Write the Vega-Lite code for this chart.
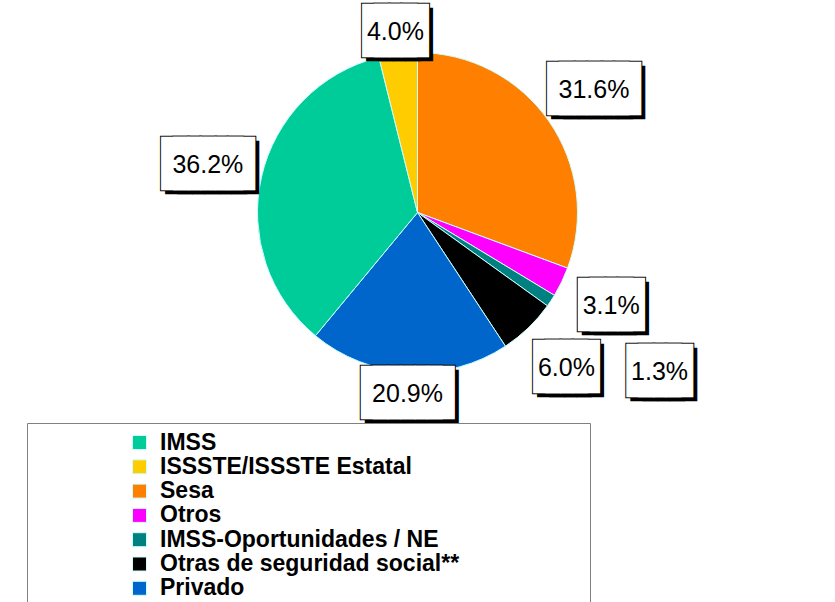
{
  "$schema": "https://vega.github.io/schema/vega-lite/v6.json",
  "width": 835,
  "height": 425,
  "padding": {"left": 0, "top": 0, "right": 0, "bottom": 177},
  "autosize": {"type": "none"},
  "background": "white",
  "config": {"view": {"stroke": null}},
  "data": {"values": [
    {"name": "Sesa", "value": 31.6, "label": "31.6%", "rank": 1},
    {"name": "Otros", "value": 3.1, "label": "3.1%", "rank": 2},
    {"name": "IMSS-Oportunidades / NE", "value": 1.3, "label": "1.3%", "rank": 3},
    {"name": "Otras de seguridad social**", "value": 6.0, "label": "6.0%", "rank": 4},
    {"name": "Privado", "value": 20.9, "label": "20.9%", "rank": 5},
    {"name": "IMSS", "value": 36.2, "label": "36.2%", "rank": 6},
    {"name": "ISSSTE/ISSSTE Estatal", "value": 4.0, "label": "4.0%", "rank": 7}
  ]},
  "encoding": {
    "theta": {"field": "value", "type": "quantitative", "stack": true},
    "order": {"field": "rank", "type": "quantitative"}
  },
  "layer": [
    {
      "mark": {"type": "arc", "outerRadius": 160, "stroke": "#ccffff", "strokeWidth": 1},
      "encoding": {
        "color": {
          "field": "name", "type": "nominal",
          "scale": {
            "domain": ["IMSS", "ISSSTE/ISSSTE Estatal", "Sesa", "Otros", "IMSS-Oportunidades / NE", "Otras de seguridad social**", "Privado"],
            "range": ["#00CC99", "#FFCC00", "#FF8000", "#FF00FF", "#008080", "#000000", "#0066CC"]
          },
          "legend": {
            "orient": "none", "legendX": 27, "legendY": 423,
            "title": "\u00a0", "titleOrient": "right", "titlePadding": 123, "titleFontSize": 10,
            "strokeColor": "#808080", "padding": 8, "symbolOffset": 93,
            "symbolType": "square", "symbolSize": 196, "symbolStrokeColor": "#ccffff", "symbolStrokeWidth": 1,
            "labelFont": "Liberation Sans", "labelFontSize": 23, "labelFontWeight": "bold", "labelColor": "#000000",
            "labelOffset": 9, "rowPadding": 0.3, "labelLimit": 600
          }
        }
      }
    },
    {"mark": {"type": "text", "font": "DejaVu Sans Mono", "fontSize": 45, "radius": 182, "dx": -2, "dy": 4, "fill": "#000000", "align": "center", "baseline": "middle"},
     "encoding": {"text": {"condition": [{"test": "indexof(['ISSSTE/ISSSTE Estatal','Privado'], datum.name) < 0", "value": ""}, {"test": "datum.value < 10", "value": "██"}], "value": "███"}}},
    {"mark": {"type": "text", "font": "DejaVu Sans Mono", "fontSize": 45, "radius": 182, "dx": 10, "dy": 4, "fill": "#000000", "align": "center", "baseline": "middle"},
     "encoding": {"text": {"condition": [{"test": "indexof(['ISSSTE/ISSSTE Estatal','Privado'], datum.name) < 0", "value": ""}, {"test": "datum.value < 10", "value": "██"}], "value": "███"}}},
    {"mark": {"type": "text", "font": "DejaVu Sans Mono", "fontSize": 45, "radius": 182, "dx": -6, "fill": "#ffffff", "stroke": "#000000", "strokeWidth": 2, "align": "center", "baseline": "middle"},
     "encoding": {"text": {"condition": [{"test": "indexof(['ISSSTE/ISSSTE Estatal','Privado'], datum.name) < 0", "value": ""}, {"test": "datum.value < 10", "value": "██"}], "value": "███"}}},
    {"mark": {"type": "text", "font": "DejaVu Sans Mono", "fontSize": 45, "radius": 182, "dx": 6, "fill": "#ffffff", "stroke": "#000000", "strokeWidth": 2, "align": "center", "baseline": "middle"},
     "encoding": {"text": {"condition": [{"test": "indexof(['ISSSTE/ISSSTE Estatal','Privado'], datum.name) < 0", "value": ""}, {"test": "datum.value < 10", "value": "██"}], "value": "███"}}},
    {"mark": {"type": "text", "font": "DejaVu Sans Mono", "fontSize": 45, "radius": 182, "dx": -6, "fill": "#ffffff", "align": "center", "baseline": "middle"},
     "encoding": {"text": {"condition": [{"test": "indexof(['ISSSTE/ISSSTE Estatal','Privado'], datum.name) < 0", "value": ""}, {"test": "datum.value < 10", "value": "██"}], "value": "███"}}},
    {"mark": {"type": "text", "font": "DejaVu Sans Mono", "fontSize": 45, "radius": 182, "dx": 6, "fill": "#ffffff", "align": "center", "baseline": "middle"},
     "encoding": {"text": {"condition": [{"test": "indexof(['ISSSTE/ISSSTE Estatal','Privado'], datum.name) < 0", "value": ""}, {"test": "datum.value < 10", "value": "██"}], "value": "███"}}},
    {"mark": {"type": "text", "font": "Liberation Sans", "fontSize": 25, "radius": 182, "fill": "#000000", "align": "center", "baseline": "middle"},
     "encoding": {"text": {"condition": {"test": "indexof(['ISSSTE/ISSSTE Estatal','Privado'], datum.name) < 0", "value": ""}, "field": "label"}}},

    {"mark": {"type": "text", "font": "DejaVu Sans Mono", "fontSize": 45, "radius": 215, "dx": -2, "dy": 4, "fill": "#000000", "align": "center", "baseline": "middle"},
     "encoding": {"text": {"condition": [{"test": "indexof(['Sesa','Otros','Otras de seguridad social**','IMSS'], datum.name) < 0", "value": ""}, {"test": "datum.value < 10", "value": "██"}], "value": "███"}}},
    {"mark": {"type": "text", "font": "DejaVu Sans Mono", "fontSize": 45, "radius": 215, "dx": 10, "dy": 4, "fill": "#000000", "align": "center", "baseline": "middle"},
     "encoding": {"text": {"condition": [{"test": "indexof(['Sesa','Otros','Otras de seguridad social**','IMSS'], datum.name) < 0", "value": ""}, {"test": "datum.value < 10", "value": "██"}], "value": "███"}}},
    {"mark": {"type": "text", "font": "DejaVu Sans Mono", "fontSize": 45, "radius": 215, "dx": -6, "fill": "#ffffff", "stroke": "#000000", "strokeWidth": 2, "align": "center", "baseline": "middle"},
     "encoding": {"text": {"condition": [{"test": "indexof(['Sesa','Otros','Otras de seguridad social**','IMSS'], datum.name) < 0", "value": ""}, {"test": "datum.value < 10", "value": "██"}], "value": "███"}}},
    {"mark": {"type": "text", "font": "DejaVu Sans Mono", "fontSize": 45, "radius": 215, "dx": 6, "fill": "#ffffff", "stroke": "#000000", "strokeWidth": 2, "align": "center", "baseline": "middle"},
     "encoding": {"text": {"condition": [{"test": "indexof(['Sesa','Otros','Otras de seguridad social**','IMSS'], datum.name) < 0", "value": ""}, {"test": "datum.value < 10", "value": "██"}], "value": "███"}}},
    {"mark": {"type": "text", "font": "DejaVu Sans Mono", "fontSize": 45, "radius": 215, "dx": -6, "fill": "#ffffff", "align": "center", "baseline": "middle"},
     "encoding": {"text": {"condition": [{"test": "indexof(['Sesa','Otros','Otras de seguridad social**','IMSS'], datum.name) < 0", "value": ""}, {"test": "datum.value < 10", "value": "██"}], "value": "███"}}},
    {"mark": {"type": "text", "font": "DejaVu Sans Mono", "fontSize": 45, "radius": 215, "dx": 6, "fill": "#ffffff", "align": "center", "baseline": "middle"},
     "encoding": {"text": {"condition": [{"test": "indexof(['Sesa','Otros','Otras de seguridad social**','IMSS'], datum.name) < 0", "value": ""}, {"test": "datum.value < 10", "value": "██"}], "value": "███"}}},
    {"mark": {"type": "text", "font": "Liberation Sans", "fontSize": 25, "radius": 215, "fill": "#000000", "align": "center", "baseline": "middle"},
     "encoding": {"text": {"condition": {"test": "indexof(['Sesa','Otros','Otras de seguridad social**','IMSS'], datum.name) < 0", "value": ""}, "field": "label"}}},

    {"mark": {"type": "text", "font": "DejaVu Sans Mono", "fontSize": 45, "radius": 290, "dx": -2, "dy": 4, "fill": "#000000", "align": "center", "baseline": "middle"},
     "encoding": {"text": {"condition": [{"test": "datum.name !== 'IMSS-Oportunidades / NE'", "value": ""}, {"test": "datum.value < 10", "value": "██"}], "value": "███"}}},
    {"mark": {"type": "text", "font": "DejaVu Sans Mono", "fontSize": 45, "radius": 290, "dx": 10, "dy": 4, "fill": "#000000", "align": "center", "baseline": "middle"},
     "encoding": {"text": {"condition": [{"test": "datum.name !== 'IMSS-Oportunidades / NE'", "value": ""}, {"test": "datum.value < 10", "value": "██"}], "value": "███"}}},
    {"mark": {"type": "text", "font": "DejaVu Sans Mono", "fontSize": 45, "radius": 290, "dx": -6, "fill": "#ffffff", "stroke": "#000000", "strokeWidth": 2, "align": "center", "baseline": "middle"},
     "encoding": {"text": {"condition": [{"test": "datum.name !== 'IMSS-Oportunidades / NE'", "value": ""}, {"test": "datum.value < 10", "value": "██"}], "value": "███"}}},
    {"mark": {"type": "text", "font": "DejaVu Sans Mono", "fontSize": 45, "radius": 290, "dx": 6, "fill": "#ffffff", "stroke": "#000000", "strokeWidth": 2, "align": "center", "baseline": "middle"},
     "encoding": {"text": {"condition": [{"test": "datum.name !== 'IMSS-Oportunidades / NE'", "value": ""}, {"test": "datum.value < 10", "value": "██"}], "value": "███"}}},
    {"mark": {"type": "text", "font": "DejaVu Sans Mono", "fontSize": 45, "radius": 290, "dx": -6, "fill": "#ffffff", "align": "center", "baseline": "middle"},
     "encoding": {"text": {"condition": [{"test": "datum.name !== 'IMSS-Oportunidades / NE'", "value": ""}, {"test": "datum.value < 10", "value": "██"}], "value": "███"}}},
    {"mark": {"type": "text", "font": "DejaVu Sans Mono", "fontSize": 45, "radius": 290, "dx": 6, "fill": "#ffffff", "align": "center", "baseline": "middle"},
     "encoding": {"text": {"condition": [{"test": "datum.name !== 'IMSS-Oportunidades / NE'", "value": ""}, {"test": "datum.value < 10", "value": "██"}], "value": "███"}}},
    {"mark": {"type": "text", "font": "Liberation Sans", "fontSize": 25, "radius": 290, "fill": "#000000", "align": "center", "baseline": "middle"},
     "encoding": {"text": {"condition": {"test": "datum.name !== 'IMSS-Oportunidades / NE'", "value": ""}, "field": "label"}}}
  ]
}
